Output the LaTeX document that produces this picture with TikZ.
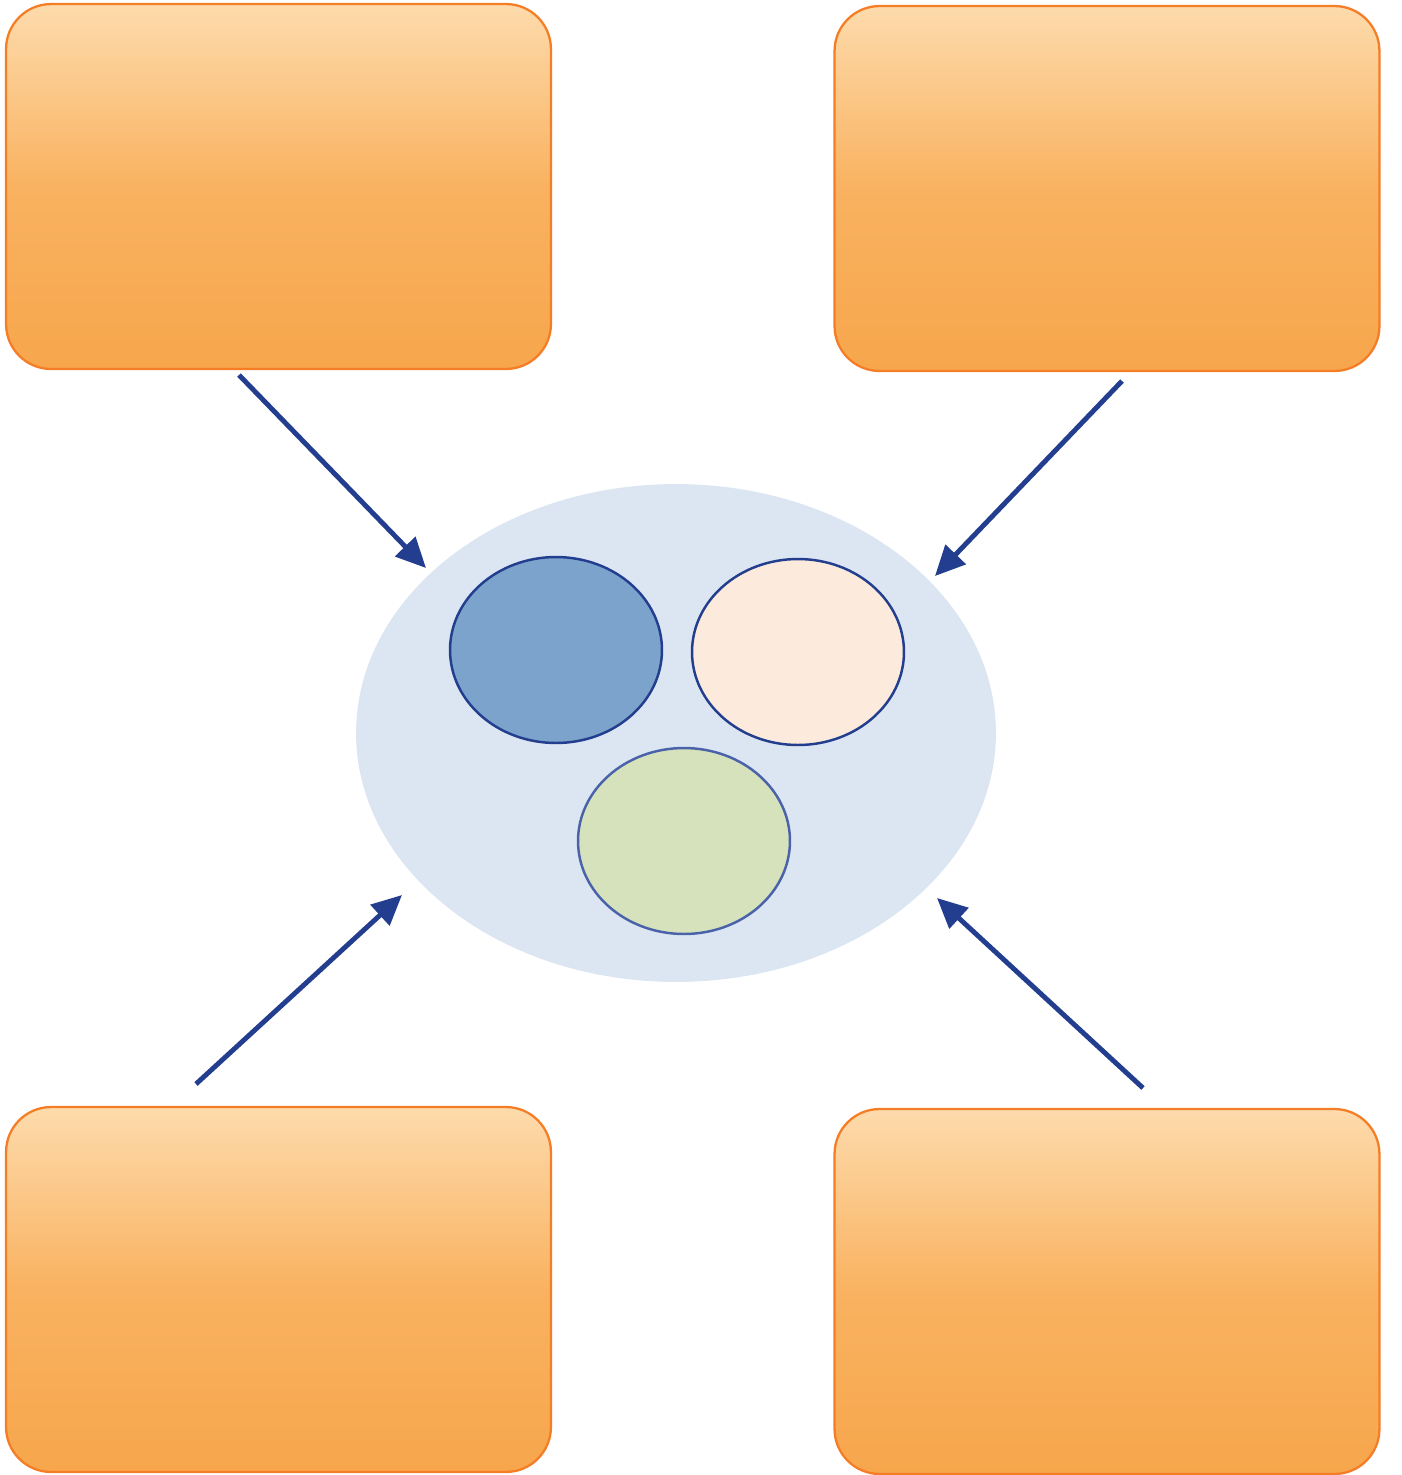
\documentclass[tikz,border=0pt]{standalone}
\usetikzlibrary{arrows.meta,shapes.geometric}
\definecolor{boxline}{RGB}{244,125,38}
\definecolor{boxtop}{RGB}{253,219,172}
\definecolor{boxmid}{RGB}{249,178,96}
\definecolor{boxbot}{RGB}{247,166,76}
\definecolor{arrowblue}{RGB}{35,62,143}
\definecolor{poolblue}{RGB}{220,230,242}
\definecolor{setblue}{RGB}{123,163,203}
\definecolor{setpeach}{RGB}{252,235,220}
\definecolor{setgreen}{RGB}{213,226,188}
\definecolor{greenline}{RGB}{74,98,170}
\tikzset{
  orangebox/.style={draw=boxline, line width=1.3pt, rounded corners=0.9cm,
    minimum width=10.9cm, minimum height=7.3cm,
    top color=boxtop, bottom color=boxbot, middle color=boxmid},
  setdisk/.style={ellipse, line width=1.4pt, minimum width=4.24cm, minimum height=3.72cm},
  feed/.style={draw=arrowblue, line width=2.8pt, -{Triangle[length=0.6cm,width=0.55cm]}}
}
\begin{document}
\begin{tikzpicture}[x=0.02cm, y=-0.02cm]
  \useasboundingbox (0,0) rectangle (1402,1475);
  \node[orangebox] (tl) at (278.5,186.5) {};
  \node[orangebox] (tr) at (1107,188.5) {};
  \node[orangebox] (bl) at (278.5,1289.5) {};
  \node[orangebox] (br) at (1107,1291.5) {};
  \node[ellipse, fill=poolblue, minimum width=12.8cm, minimum height=9.96cm] (pool) at (676,733) {};
  \node[setdisk, draw=arrowblue, fill=setblue] (seta) at (556,650) {};
  \node[setdisk, draw=arrowblue, fill=setpeach] (setb) at (798,652) {};
  \node[setdisk, draw=greenline, fill=setgreen] (setc) at (684,841) {};
  \coordinate (tlout) at (239,375);
  \coordinate (tlin) at (426,568);
  \coordinate (trout) at (1122,381);
  \coordinate (trin) at (935,576);
  \coordinate (blout) at (196,1084);
  \coordinate (blin) at (402,895);
  \coordinate (brout) at (1143,1088);
  \coordinate (brin) at (937,898);
  \draw[feed] (tlout) -- (tlin);
  \draw[feed] (trout) -- (trin);
  \draw[feed] (blout) -- (blin);
  \draw[feed] (brout) -- (brin);
\end{tikzpicture}
\end{document}
